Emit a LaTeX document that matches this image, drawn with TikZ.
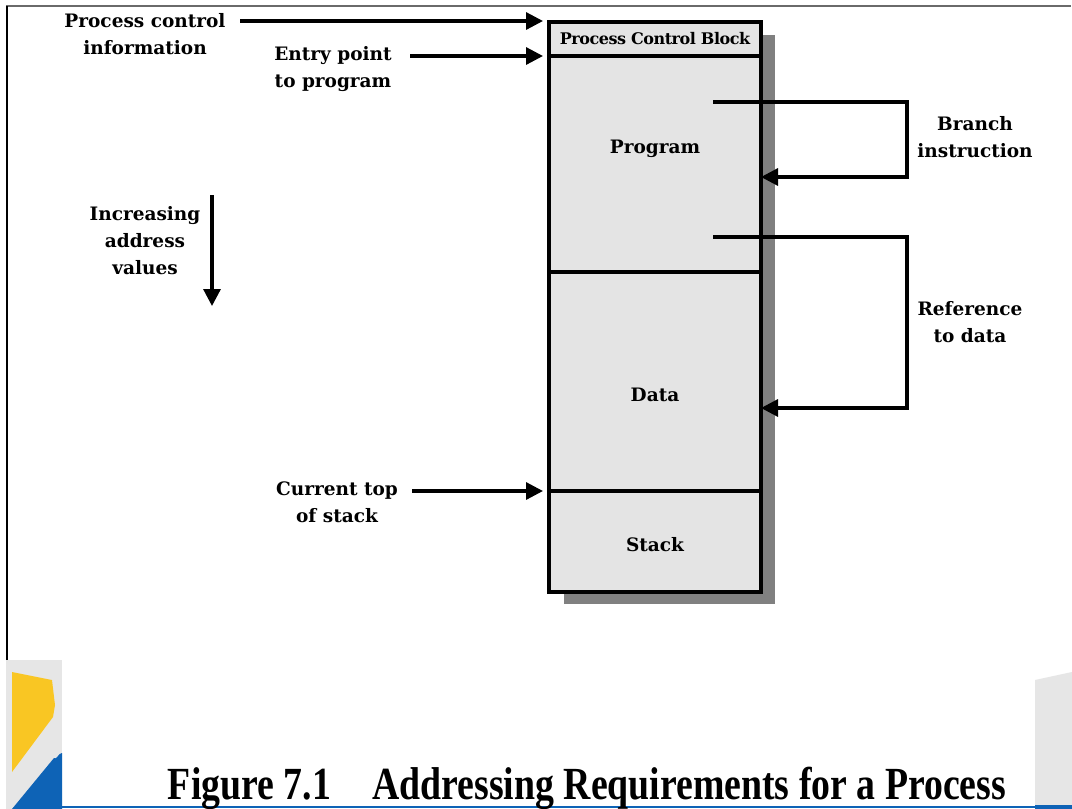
\documentclass[tikz,border=0pt]{standalone}
\usepackage{fontspec}
\setmainfont{Liberation Serif}
\newfontfamily\lblfont{DejaVu Serif}
\usetikzlibrary{arrows.meta}
\definecolor{boxfill}{HTML}{E4E4E4}
\definecolor{shadowGray}{HTML}{808080}
\definecolor{frameGray}{HTML}{6A6A6A}
\definecolor{stripGray}{HTML}{E6E6E6}
\definecolor{accentYellow}{HTML}{F9C623}
\definecolor{accentBlue}{HTML}{0E63B6}
\tikzset{
  seg/.style={draw=black, line width=3.4pt, fill=boxfill, minimum width=212pt,
    inner sep=0pt, outer sep=0pt, anchor=north west,
    font=\lblfont\bfseries\fontsize{18}{22}\selectfont},
  lbl/.style={align=center, inner sep=0pt,
    font=\lblfont\bfseries\fontsize{18.5}{27}\selectfont},
  arr/.style={line width=3.2pt, -{Triangle[length=17pt,width=17pt]}},
  link/.style={line width=3.2pt}
}
\begin{document}
\begin{tikzpicture}[x=1pt,y=-1pt]
\useasboundingbox (0,0) rectangle (1072,809);
\fill[white] (0,0) rectangle (1072,809);

% slide frame
\draw[frameGray, line width=1.6pt] (6,6) -- (1071,6);
\draw[black, line width=1.6pt] (7,6) -- (7,660);

% footer decoration
\fill[stripGray] (6,660) rectangle (62,809);
\fill[accentYellow] (12,672) -- (52,680) -- (55,705) -- (53,717) -- (12,772) -- cycle;
\fill[accentBlue] (12,809) -- (54,758) to[out=-45,in=180] (62,753) -- (62,809) -- cycle;
\fill[stripGray] (1035,680) -- (1072,672) -- (1072,806) -- (1035,806) -- cycle;
\draw[accentBlue, line width=2pt] (40,807) -- (1072,807);
\draw[accentBlue, line width=4pt] (1035,807) -- (1072,807);

% process image with its drop shadow
\fill[shadowGray] (564,35) rectangle (775,604);
\node[seg, minimum height=34pt] (pcb) at (549,22)
  {\fontsize{16}{18}\selectfont\addfontfeatures{LetterSpace=-3}Process Control Block};
\node[seg, minimum height=216pt] (prog) at (549,56) {};
\node[seg, minimum height=219pt] (data) at (549,272) {};
\node[seg, minimum height=101pt] (stack) at (549,491) {};
\node[lbl] (progT) at (655,149) {Program};
\node[lbl] (dataT) at (655,395) {Data};
\node[lbl] (stackT) at (655,545) {Stack};

% labels on the left
\node[lbl] (pci) at (145,34) {Process control\\information};
\node[lbl] (entry) at (333,69) {Entry point\\to program};
\node[lbl] (incr) at (145,241) {Increasing\\address\\values};
\node[lbl] (tos) at (337,502) {Current top\\of stack};

% labels on the right
\node[lbl] (branch) at (975,137) {Branch\\instruction};
\node[lbl] (ref) at (970,322) {Reference\\to data};

% arrow ends
\coordinate (pciS) at (240,21);
\coordinate (entryS) at (410,56);
\coordinate (tosS) at (412,491);
\coordinate (incS) at (212,195);
\coordinate (incE) at (212,306);
\coordinate (brS) at (713,102);
\coordinate (brC) at (907,102);
\coordinate (rfS) at (713,237);
\coordinate (rfC) at (907,237);

\draw[arr] (pciS) -- ([xshift=-6pt]pcb.north west |- pciS);
\draw[arr] (entryS) -- ([xshift=-6pt]pcb.south west);
\draw[arr] (tosS) -- ([xshift=-6pt]stack.north west);
\draw[arr] (incS) -- (incE);

\draw[arr] (brS) -- (brC) -- (907,177) -- (prog.east |- 0,177);
\draw[arr] (rfS) -- (rfC) -- (907,408) -- (data.east |- 0,408);

% caption
\node[anchor=base, inner sep=0pt, font=\bfseries\fontsize{46}{50}\selectfont]
  (cap) at (587,799) {\resizebox{838pt}{\height}{Figure 7.1\hspace{1.1em}Addressing Requirements for a Process}};
\end{tikzpicture}
\end{document}
